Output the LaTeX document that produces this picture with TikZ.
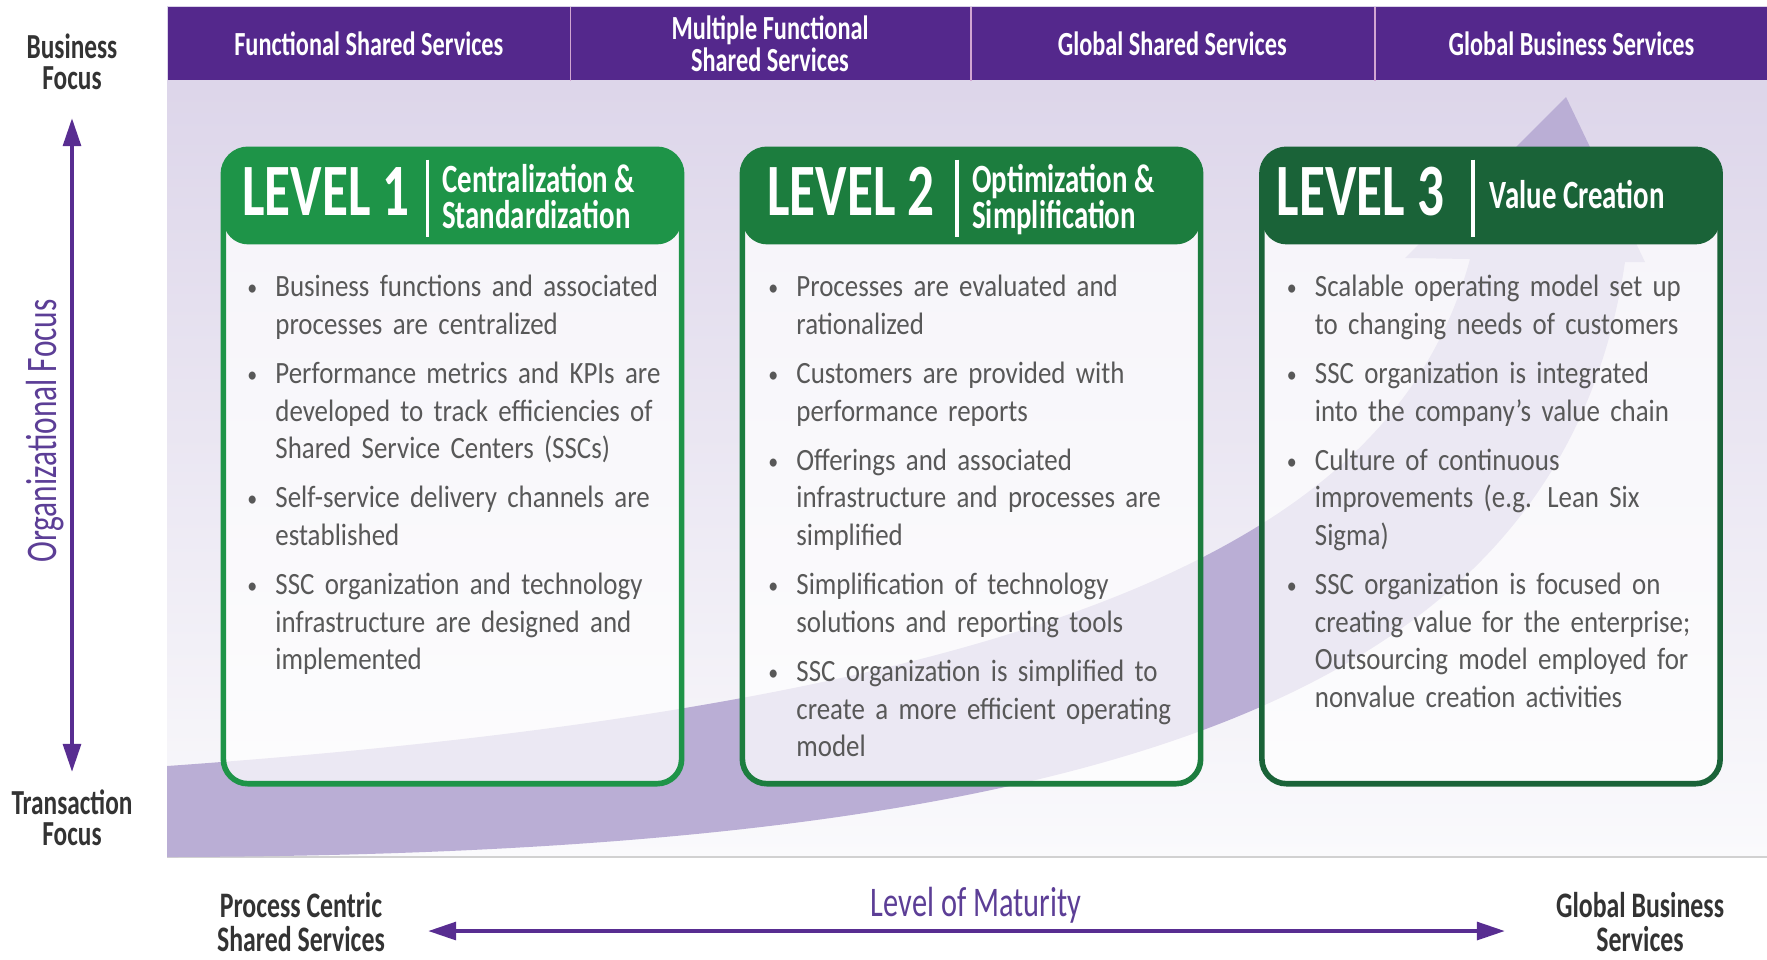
\documentclass[tikz,border=0pt]{standalone}
\usepackage{fontspec}
\setmainfont{Carlito}[FakeStretch=0.87, WordSpace=0.75]
\newfontfamily\condfont{Carlito}[FakeStretch=0.72]
\newfontfamily\titlefont{Carlito}
\usepackage{tikz}
\usepackage{xcolor}
\usetikzlibrary{calc}
\usetikzlibrary{arrows.meta}

\definecolor{hdrpurple}{RGB}{84,40,140}
\definecolor{axispurple}{RGB}{88,45,145}
\definecolor{matpurple}{RGB}{92,62,150}
\definecolor{greenA}{RGB}{30,148,72}
\definecolor{greenB}{RGB}{28,125,62}
\definecolor{greenC}{RGB}{26,99,56}
\definecolor{swoosh}{RGB}{186,174,213}
\definecolor{bgtop}{RGB}{218,210,232}
\definecolor{bgbot}{RGB}{250,250,252}
\definecolor{bodytext}{RGB}{88,88,88}
\definecolor{labeltext}{RGB}{51,51,51}

\newcommand{\sscitem}[1]{\hangindent=8pt\hangafter=1\noindent\makebox[8pt][l]{\raisebox{0.4pt}{\fontsize{6.5}{6.5}\selectfont\textbullet}}#1\par\vspace{3.4pt}}
\newcommand{\lvltext}[1]{\scalebox{0.72}[1]{#1}}

\begin{document}
\begin{tikzpicture}[x=0.01cm, y=-0.01cm]

\tikzset{
    hdrcell/.style = {
    fill=hdrpurple, text=white,
    minimum height=0.73cm, inner sep=0pt, align=center,
    font=\condfont\bfseries\fontsize{9.6}{8.2}\selectfont
    },
    lvlbox/.style = {
    draw=#1, line width=1.6pt, rounded corners=7pt,
    fill=white, fill opacity=0.72,
    minimum width=4.58cm, minimum height=6.34cm, inner sep=0pt,
    path picture={\fill[#1, fill opacity=1] (path picture bounding box.north west) rectangle ([yshift=-0.95cm]path picture bounding box.north east);}
    }
}

\tikzstyle{lvltitle}=[anchor=base west, inner sep=0pt, text=white, font=\titlefont\bfseries\fontsize{21}{21}\selectfont]
\tikzstyle{lvlsub}=[anchor=west, inner sep=0pt, text=white, align=left, font=\condfont\bfseries\fontsize{11.4}{10.2}\selectfont]
\tikzstyle{lvlbar}=[draw=white, line width=1.1pt]
\tikzstyle{bullets}=[anchor=north west, inner sep=0pt, text width=4.3cm, align=left, text=bodytext, font=\fontsize{8.8}{10.65}\selectfont]
\tikzstyle{sidelabel}=[align=center, inner sep=0pt, text=labeltext, font=\condfont\bfseries\fontsize{10}{8.8}\selectfont]
\tikzstyle{focusarrow}=[draw=axispurple, line width=1.2pt, arrows={Triangle[length=8pt, width=5pt]-Triangle[length=8pt, width=5pt]}]

\useasboundingbox (0,0) rectangle (1767,959);

% panel and swoosh
\shade[top color=bgtop, bottom color=bgbot] (167,6) rectangle (1767,857);
\draw[black!18] (167,857) -- (1767,857);
\fill[swoosh] (167,766) .. controls (1100,700) and (1400,520) .. (1470,259)
    -- (1405,258) -- (1566,97) -- (1645,262) -- (1625,262)
    .. controls (1560,700) and (1100,855) .. (167,857) -- cycle;

\matrix (hdr) [column sep=0cm, inner sep=0pt, anchor=north west] at (167,6)
{
\node (h-1) [hdrcell, minimum width=4.02cm] {Functional Shared Services};
& \node (h-2) [hdrcell, minimum width=4.00cm] {Multiple Functional\\Shared Services};
& \node (h-3) [hdrcell, minimum width=4.04cm] {Global Shared Services};
& \node (h-4) [hdrcell, minimum width=3.94cm] {Global Business Services};
\\
};

\draw[violet!35] (h-1.north east) -- (h-1.south east);
\draw[violet!35] (h-2.north east) -- (h-2.south east);
\draw[violet!35] (h-3.north east) -- (h-3.south east);

% level boxes
\node (lvl-1) [lvlbox=greenA] at (452.5,466.5) {};
\node (lvl-2) [lvlbox=greenB] at (971.5,466.5) {};
\node (lvl-3) [lvlbox=greenC] at (1491,466.5) {};

\node (t-1) [lvltitle] at ([shift={(21,69)}]lvl-1.north west) {\lvltext{LEVEL 1}};
\draw[lvlbar] ([shift={(207,13)}]lvl-1.north west) -- ++(0,77);
\node (s-1) [lvlsub] at ([shift={(221,50)}]lvl-1.north west) {Centralization \&\\Standardization};

\node (t-2) [lvltitle] at ([shift={(27,69)}]lvl-2.north west) {\lvltext{LEVEL 2}};
\draw[lvlbar] ([shift={(217,13)}]lvl-2.north west) -- ++(0,77);
\node (s-2) [lvlsub] at ([shift={(232,53)}]lvl-2.north west) {Optimization \&\\Simplification};

\node (t-3) [lvltitle] at ([shift={(17,69)}]lvl-3.north west) {\lvltext{LEVEL 3}};
\draw[lvlbar] ([shift={(214,13)}]lvl-3.north west) -- ++(0,77);
\node (s-3) [lvlsub] at ([shift={(230,48)}]lvl-3.north west) {Value Creation};

\node (b-1) [bullets] at ([shift={(26,128)}]lvl-1.north west) {
\sscitem{Business functions and associated\newline processes are centralized}
\sscitem{Performance metrics and KPIs are\newline developed to track efficiencies of\newline Shared Service Centers (SSCs)}
\sscitem{Self-service delivery channels are\newline established}
\sscitem{SSC organization and technology\newline infrastructure are designed and\newline implemented}
};

\node (b-2) [bullets] at ([shift={(28,128)}]lvl-2.north west) {
\sscitem{Processes are evaluated and\newline rationalized}
\sscitem{Customers are provided with\newline performance reports}
\sscitem{Offerings and associated\newline infrastructure and processes are\newline simplified}
\sscitem{Simplification of technology\newline solutions and reporting tools}
\sscitem{SSC organization is simplified to\newline create a more efficient operating\newline model}
};

\node (b-3) [bullets] at ([shift={(27,128)}]lvl-3.north west) {
\sscitem{Scalable operating model set up\newline to changing needs of customers}
\sscitem{SSC organization is integrated\newline into the company’s value chain}
\sscitem{Culture of continuous\newline improvements (e.g. Lean Six\newline Sigma)}
\sscitem{SSC organization is focused on\newline creating value for the enterprise;\newline Outsourcing model employed for\newline nonvalue creation activities}
};

% axes
\node (bfocus) [sidelabel] at (72,62) {Business\\Focus};
\node (tfocus) [sidelabel] at (72,818) {Transaction\\Focus};
\node (orgfocus) [rotate=90, inner sep=0pt, text=matpurple, font=\condfont\fontsize{12.4}{12}\selectfont] at (45,431) {Organizational Focus};
\coordinate (v-top) at (72,118);
\coordinate (v-bot) at (72,772);
\draw[focusarrow] (v-top) -- (v-bot);

\node (pcss) [sidelabel, font=\condfont\bfseries\fontsize{10.2}{9.7}\selectfont] at (301,922) {Process Centric\\Shared Services};
\node (gbs) [sidelabel, font=\condfont\bfseries\fontsize{10.2}{9.7}\selectfont] at (1640,922) {Global Business\\Services};
\node (mat) [inner sep=0pt, text=matpurple, font=\condfont\fontsize{12}{12}\selectfont] at (976,905) {Level of Maturity};
\coordinate (m-left) at (428,931);
\coordinate (m-right) at (1505,931);
\draw[focusarrow] (m-left) -- (m-right);

% \draw (mat.north) node[above] {};

\end{tikzpicture}
\end{document}
